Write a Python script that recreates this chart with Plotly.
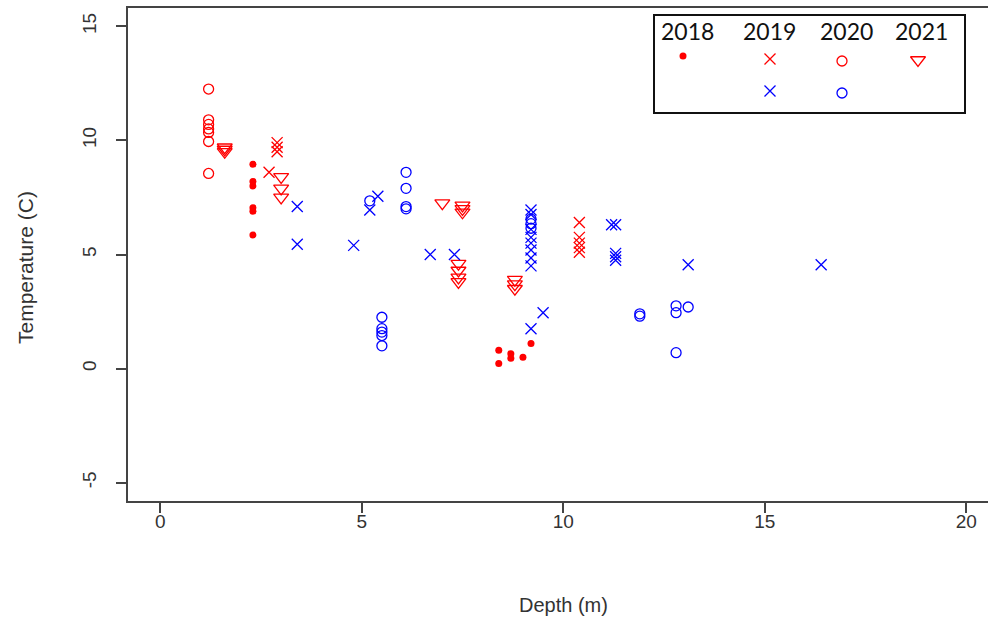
import plotly.graph_objects as go

# ---------------- data (depth m, temperature C) ----------------
red2018_depth = [2.3, 2.3, 2.3, 2.3, 2.3, 2.3, 8.4, 8.4, 8.7, 8.7, 9.0, 9.2]
red2018_temp = [8.95, 8.2, 8.0, 7.05, 6.9, 5.85, 0.8, 0.22, 0.65, 0.45, 0.5, 1.1]

red2019_depth = [2.9, 2.9, 2.9, 2.7, 10.4, 10.4, 10.4, 10.4, 10.4]
red2019_temp = [9.9, 9.7, 9.5, 8.6, 6.4, 5.75, 5.5, 5.3, 5.1]

red2020_depth = [1.2, 1.2, 1.2, 1.2, 1.2, 1.2, 1.2]
red2020_temp = [12.25, 10.9, 10.7, 10.5, 10.35, 9.95, 8.55]

red2021_depth = [1.6, 1.6, 1.6, 3.0, 3.0, 3.0, 7.0, 7.5, 7.5, 7.5,
                 7.4, 7.4, 7.4, 7.4, 8.8, 8.8, 8.8]
red2021_temp = [9.7, 9.6, 9.5, 8.4, 7.9, 7.5, 7.25, 7.15, 7.0, 6.85,
                4.6, 4.3, 4.0, 3.8, 3.9, 3.7, 3.5]

blue2019_depth = [3.4, 3.4, 4.8, 5.2, 5.4, 6.7, 7.3,
                  9.2, 9.2, 9.2, 9.2, 9.2, 9.2, 9.2, 9.2, 9.2, 9.5,
                  11.2, 11.3, 11.3, 11.3, 11.3, 13.1, 16.4]
blue2019_temp = [7.1, 5.45, 5.4, 6.95, 7.55, 5.0, 5.0,
                 6.95, 6.75, 6.1, 5.75, 5.5, 5.2, 4.85, 4.5, 1.75, 2.45,
                 6.3, 6.3, 5.05, 4.9, 4.75, 4.55, 4.55]

blue2020_depth = [5.2, 5.5, 5.5, 5.5, 5.5, 5.5, 6.1, 6.1, 6.1, 6.1,
                  9.2, 9.2, 9.2, 11.9, 11.9, 12.8, 12.8, 12.8, 13.1]
blue2020_temp = [7.35, 2.25, 1.75, 1.6, 1.45, 1.0, 8.6, 7.9, 7.1, 7.0,
                 6.55, 6.35, 6.15, 2.4, 2.3, 2.75, 2.45, 0.7, 2.7]

x_ticks = [0, 5, 10, 15, 20]
y_ticks = [-5, 0, 5, 10, 15]
legend_years = ["2018", "2019", "2020", "2021"]

# ---------------- styles ----------------
RED = "#FF0000"
BLUE = "#0000FF"
AX = "#444444"
TXT = "#333333"

W, H = 988, 629
L, R, T, B = 128, 0, 8, 128
PW, PH = W - L - R, H - T - B


def fx(px):
    return (px - L) / PW


def fy(py):
    return (H - B - py) / PH


sym = {
    "2018": dict(symbol="circle", size=7, line=dict(width=0)),
    "2019": dict(symbol="x-thin-open", size=11, line=dict(width=1.3)),
    "2020": dict(symbol="circle-open", size=10, line=dict(width=1.3)),
    "2021": dict(symbol="triangle-down-open", size=13, line=dict(width=1.3)),
}


def mk(year, color):
    d = dict(sym[year])
    d["line"] = dict(d["line"], color=color)
    d["color"] = color
    return d


fig = go.Figure()
series = [
    (red2018_depth, red2018_temp, "2018", RED),
    (red2019_depth, red2019_temp, "2019", RED),
    (red2020_depth, red2020_temp, "2020", RED),
    (red2021_depth, red2021_temp, "2021", RED),
    (blue2019_depth, blue2019_temp, "2019", BLUE),
    (blue2020_depth, blue2020_temp, "2020", BLUE),
]
for xs, ys, yr, col in series:
    fig.add_trace(go.Scatter(x=xs, y=ys, mode="markers", marker=mk(yr, col),
                             showlegend=False, hoverinfo="x+y"))

# ---------------- custom legend (pixel layout) ----------------
col_px = {"2018": 683, "2019": 770, "2020": 842, "2021": 918}
txt_px = {"2018": 687, "2019": 769, "2020": 846, "2021": 921}
row_red_py, row_blue_py = 59, 92
leg_items = [("2018", RED, row_red_py - 3), ("2019", RED, row_red_py),
             ("2020", RED, row_red_py + 2), ("2021", RED, row_red_py + 1),
             ("2019", BLUE, row_blue_py - 1), ("2020", BLUE, row_blue_py + 1)]
for yr, col, py in leg_items:
    fig.add_trace(go.Scatter(x=[fx(col_px[yr])], y=[fy(py)], xaxis="x2", yaxis="y2",
                             mode="markers", marker=mk(yr, col), showlegend=False,
                             hoverinfo="skip"))

fig.add_shape(type="rect", xref="paper", yref="paper",
              x0=fx(654), x1=fx(965), y0=fy(113), y1=fy(15),
              line=dict(color="#111111", width=2), fillcolor="rgba(0,0,0,0)")
for yr in legend_years:
    fig.add_annotation(x=fx(txt_px[yr]), y=fy(31), xref="paper", yref="paper",
                       text=yr, showarrow=False, xanchor="center", yanchor="middle",
                       font=dict(family="Lato", size=23, color="#111111"))

# axis titles
fig.add_annotation(x=fx(563), y=fy(605), xref="paper", yref="paper", text="Depth (m)",
                   showarrow=False, xanchor="center", yanchor="middle",
                   font=dict(family="Liberation Sans", size=20, color=TXT))
fig.add_annotation(x=fx(25), y=fy(268), xref="paper", yref="paper", text="Temperature (C)",
                   showarrow=False, xanchor="center", yanchor="middle", textangle=-90,
                   font=dict(family="Liberation Sans", size=21, color=TXT))

fig.update_layout(
    width=W, height=H,
    margin=dict(l=L, r=R, t=T, b=B, pad=0),
    paper_bgcolor="white", plot_bgcolor="white",
    showlegend=False,
    xaxis=dict(range=[-0.8, -0.8 + PW / 40.3], tickvals=x_ticks,
               ticktext=[str(v) for v in x_ticks],
               ticks="outside", ticklen=10, tickwidth=1.5, tickcolor=AX,
               showline=True, linecolor=AX, linewidth=1.5, mirror=True,
               showgrid=False, zeroline=False, ticklabelstandoff=-8,
               tickfont=dict(family="Liberation Sans", size=19, color=TXT)),
    yaxis=dict(range=[-5.8, 15.8], tickvals=y_ticks,
               ticktext=[str(v) for v in y_ticks],
               ticks="outside", ticklen=10, tickwidth=1.5, tickcolor=AX,
               showline=True, linecolor=AX, linewidth=1.5, mirror=False,
               showgrid=False, zeroline=False, tickangle=-90, ticklabelstandoff=13,
               tickfont=dict(family="Liberation Sans", size=19, color=TXT)),
    xaxis2=dict(range=[0, 1], domain=[0, 1], overlaying="x", visible=False, fixedrange=True),
    yaxis2=dict(range=[0, 1], domain=[0, 1], overlaying="y", visible=False, fixedrange=True),
)

fig.write_html("out.html")
